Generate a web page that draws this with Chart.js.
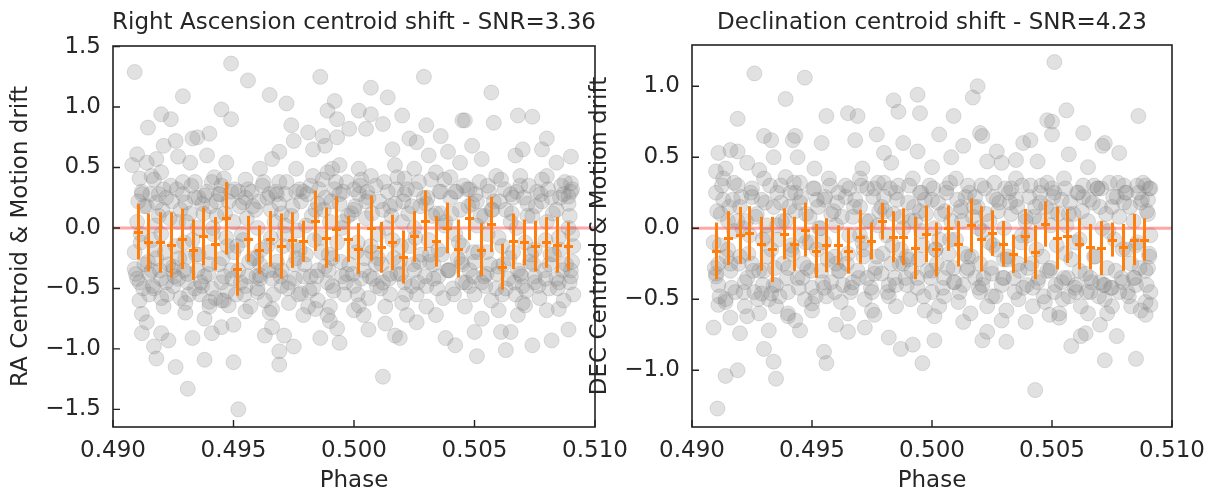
<!DOCTYPE html>
<html><head><meta charset="utf-8">
<script src="https://cdn.jsdelivr.net/npm/chart.js@4.4.1/dist/chart.umd.min.js"></script>
<style>
html,body{margin:0;padding:0;background:#fff;width:1211px;height:489px;overflow:hidden}
canvas{position:absolute;top:0}
#c1{left:0}
#c2{left:580px}
</style></head><body>
<canvas id="c1" width="640" height="489"></canvas>
<canvas id="c2" width="631" height="489"></canvas>
<script>
// ---------- tick labels ----------
const phaseTicks = [0.490, 0.495, 0.500, 0.505, 0.510];
const raYTicks = [-1.5, -1.0, -0.5, 0.0, 0.5, 1.0, 1.5];
const decYTicks = [-1.0, -0.5, 0.0, 0.5, 1.0];
const titles = ["Right Ascension centroid shift - SNR=3.36", "Declination centroid shift - SNR=4.23"];
const yLabels = ["RA Centroid & Motion drift", "DEC Centroid & Motion drift"];
const xLabel = "Phase";

// ---------- binned (orange) series ----------
const raBinPhase = [0.49102,0.49145,0.49195,0.49240,0.49286,0.49331,0.49375,0.49425,0.49468,0.49514,
  0.49559,0.49607,0.49653,0.49698,0.49744,0.49790,0.49838,0.49883,0.49927,0.49975,
  0.50018,0.50069,0.50111,0.50157,0.50203,0.50248,0.50294,0.50339,0.50385,0.50433,
  0.50476,0.50526,0.50570,0.50613,0.50661,0.50706,0.50752,0.50798,0.50841,0.50889];
const raBinValue = [-0.03,-0.12,-0.12,-0.14,-0.09,-0.18,-0.07,-0.13,0.08,-0.34,
  -0.09,-0.18,-0.09,-0.15,-0.10,-0.11,0.06,-0.08,-0.01,-0.09,
  -0.17,0.00,-0.16,-0.12,-0.24,-0.07,0.06,-0.11,0.00,-0.17,
  0.08,-0.18,0.03,-0.32,-0.11,-0.12,-0.15,-0.12,-0.14,-0.15];
const raBinErr = [0.23,0.24,0.25,0.27,0.25,0.25,0.24,0.22,0.30,0.22,
  0.19,0.20,0.23,0.27,0.23,0.17,0.25,0.25,0.27,0.19,
  0.21,0.27,0.21,0.23,0.22,0.21,0.25,0.21,0.21,0.24,
  0.18,0.22,0.23,0.19,0.23,0.19,0.21,0.21,0.23,0.20];

const decBinPhase = [0.49102,0.49152,0.49198,0.49239,0.49289,0.49333,0.49383,0.49424,0.49469,0.49515,
  0.49559,0.49609,0.49652,0.49701,0.49746,0.49790,0.49837,0.49881,0.49931,0.49974,
  0.50015,0.50068,0.50109,0.50162,0.50203,0.50249,0.50295,0.50337,0.50386,0.50431,
  0.50472,0.50521,0.50563,0.50612,0.50657,0.50703,0.50749,0.50794,0.50843,0.50884];
const decBinValue = [-0.16,-0.07,-0.05,-0.035,-0.11,-0.15,-0.04,-0.11,-0.01,-0.16,
  -0.12,-0.12,-0.16,-0.06,-0.09,0.05,-0.06,-0.06,-0.14,-0.04,
  -0.15,0.00,-0.11,0.02,-0.075,-0.035,-0.11,-0.18,-0.055,-0.17,
  0.03,-0.07,-0.055,-0.11,-0.13,-0.14,-0.08,-0.135,-0.08,-0.08];
const decBinErr = [0.20,0.19,0.20,0.19,0.19,0.23,0.18,0.19,0.19,0.19,
  0.19,0.14,0.16,0.19,0.13,0.13,0.18,0.20,0.22,0.20,
  0.19,0.16,0.16,0.19,0.23,0.16,0.16,0.135,0.19,0.19,
  0.16,0.22,0.19,0.18,0.16,0.19,0.12,0.165,0.18,0.15];

// ---------- raw (gray) points [phase, value] ----------
const raPoints = [
[0.4909,1.29],[0.4910,0.61],[0.4908,0.52],[0.4911,0.41],[0.49145,0.83],[0.4914,0.54],[0.4916,0.43],[0.4912,0.28],
[0.4909,-0.34],[0.4912,-0.71],[0.4912,-0.87],[0.4917,-0.98],[0.4918,-1.08],[0.4914,-0.78],[0.4920,0.94],[0.4924,0.90],
[0.4921,0.68],[0.4918,0.57],[0.4920,0.46],[0.4921,0.32],[0.4918,0.21],[0.4920,-0.58],[0.4917,-0.50],[0.4920,-0.87],
[0.4923,-0.93],[0.4926,-1.15],[0.4931,-1.33],[0.4929,1.09],[0.4926,0.72],[0.4927,0.59],[0.4933,0.74],[0.4935,0.75],
[0.4932,0.54],[0.4929,0.38],[0.4930,0.21],[0.4927,-0.42],[0.4930,-0.62],[0.4934,-0.50],[0.4933,-0.91],[0.4938,-1.09],
[0.4940,0.78],[0.4939,0.60],[0.4941,0.38],[0.4938,0.27],[0.4940,-0.61],[0.4941,-0.87],[0.4938,-0.75],[0.4945,0.98],
[0.4949,1.36],[0.4949,0.90],[0.4947,0.54],[0.4946,0.41],[0.4944,0.28],[0.4945,-0.60],[0.4948,-0.64],[0.4945,-0.82],
[0.4950,-0.80],[0.4950,-1.11],[0.4952,-1.50],[0.4956,1.22],[0.4954,0.21],[0.4956,0.32],[0.4955,-0.69],[0.4960,-0.53],
[0.4961,-0.39],[0.4963,-0.89],[0.4965,1.10],[0.4961,0.49],[0.4966,0.57],[0.4969,0.63],[0.4972,1.03],[0.4974,0.85],
[0.4969,0.38],[0.4976,0.49],[0.4975,0.72],[0.4968,0.28],[0.4966,-0.67],[0.4969,-1.02],[0.4969,-1.13],[0.4971,-0.89],
[0.4975,-0.98],[0.4966,-0.82],[0.4979,-0.72],[0.4978,-0.54],[0.4981,0.79],[0.4983,0.65],[0.4986,1.25],[0.4987,0.76],
[0.4989,0.97],[0.4988,0.68],[0.4983,0.43],[0.4992,1.05],[0.4993,0.90],[0.4991,0.49],[0.4994,0.52],[0.4989,0.46],
[0.4998,0.82],[0.4993,0.75],[0.4984,-0.67],[0.4986,-0.91],[0.4989,-0.72],[0.4993,-0.83],[0.4994,-0.95],[0.4990,-0.77],
[0.5002,0.97],[0.5007,0.94],[0.5007,1.16],[0.5005,0.82],[0.5012,0.86],[0.5014,1.08],[0.5002,0.49],[0.5007,0.43],
[0.5000,0.32],[0.5004,-0.72],[0.5006,-0.84],[0.5002,-0.64],[0.5012,-1.23],[0.5013,-0.79],[0.5017,-0.89],[0.5019,-0.91],
[0.5016,0.65],[0.5020,0.93],[0.5017,0.52],[0.5023,0.74],[0.5026,0.71],[0.5025,0.49],[0.5021,0.41],[0.5022,-0.72],
[0.5026,-0.78],[0.5029,1.25],[0.5030,0.85],[0.5031,0.60],[0.5034,0.46],[0.5036,0.76],[0.5039,0.63],[0.5034,-0.72],
[0.5038,-0.91],[0.5042,-0.97],[0.5044,0.54],[0.5045,0.89],[0.5046,0.89],[0.5049,0.68],[0.5053,0.57],[0.5048,0.32],
[0.5050,-0.86],[0.5051,-1.06],[0.5053,-0.75],[0.5057,1.12],[0.5058,0.87],[0.5059,0.43],[0.5061,-0.86],[0.5063,-1.01],
[0.5065,-0.86],[0.5068,0.93],[0.5074,0.92],[0.5070,0.65],[0.5067,0.60],[0.5069,0.43],[0.5068,-0.72],[0.5074,-0.97],
[0.5071,-0.64],[0.5080,0.74],[0.5078,0.65],[0.5084,0.54],[0.5080,0.43],[0.5082,-0.93],[0.5085,-0.67],[0.5089,-0.84],
[0.5090,0.59],[0.5090,0.37],[0.5089,0.26],
[0.4909,-0.20],[0.4910,0.05],[0.4911,-0.45],[0.4912,0.30],[0.4911,-0.60],[0.4913,-0.30],
[0.4914,0.18],[0.4915,-0.38],[0.4916,-0.10],[0.4917,0.40],[0.4915,-0.55],[0.4918,-0.25],
[0.4919,0.10],[0.4920,-0.42],[0.4921,-0.65],[0.4922,0.25],[0.4920,-0.05],[0.4923,-0.30],
[0.4924,0.35],[0.4925,-0.48],[0.4926,-0.15],[0.4927,0.05],[0.4925,-0.35],[0.4928,-0.58],
[0.4929,0.28],[0.4930,-0.25],[0.4931,-0.45],[0.4932,0.12],[0.4930,-0.70],[0.4933,-0.10],
[0.4934,0.38],[0.4935,-0.35],[0.4936,-0.55],[0.4937,0.20],[0.4935,0.00],[0.4938,-0.40],
[0.4939,0.30],[0.4940,-0.20],[0.4941,-0.50],[0.4942,0.42],[0.4940,-0.65],[0.4943,0.10],
[0.4944,-0.30],[0.4945,0.35],[0.4946,-0.60],[0.4947,-0.08],[0.4945,-0.45],[0.4948,0.22],
[0.4949,-0.35],[0.4950,0.05],[0.4951,-0.55],[0.4952,0.30],[0.4950,-0.20],[0.4953,-0.45],
[0.4954,-0.10],[0.4955,0.25],[0.4956,-0.40],[0.4957,-0.65],[0.4955,0.40],[0.4958,-0.25],
[0.4959,0.15],[0.4960,-0.50],[0.4961,-0.30],[0.4962,0.35],[0.4960,0.00],[0.4963,-0.60],
[0.4964,-0.15],[0.4965,0.28],[0.4966,-0.42],[0.4967,0.05],[0.4965,-0.70],[0.4968,-0.28],
[0.4969,0.20],[0.4970,-0.48],[0.4971,-0.05],[0.4972,0.38],[0.4970,-0.35],[0.4973,-0.62],
[0.4974,0.10],[0.4975,-0.30],[0.4976,0.30],[0.4977,-0.55],[0.4975,-0.15],[0.4978,0.22],
[0.4979,-0.40],[0.4980,0.02],[0.4981,-0.65],[0.4982,0.35],[0.4980,-0.22],[0.4983,-0.50],
[0.4984,0.15],[0.4985,-0.35],[0.4986,-0.08],[0.4987,0.40],[0.4985,-0.60],[0.4988,0.25],
[0.4989,-0.45],[0.4990,0.05],[0.4991,-0.25],[0.4992,0.32],[0.4990,-0.65],[0.4993,-0.12],
[0.4994,0.20],[0.4995,-0.40],[0.4996,-0.55],[0.4997,0.38],[0.4995,0.00],[0.4998,-0.30],
[0.4999,0.12],[0.5000,-0.48],[0.5001,-0.20],[0.5002,0.28],[0.5000,-0.68],[0.5003,0.40],
[0.5004,-0.35],[0.5005,0.08],[0.5006,-0.58],[0.5007,-0.15],[0.5005,0.22],[0.5008,-0.42],
[0.5009,0.35],[0.5010,-0.25],[0.5011,-0.50],[0.5012,0.15],[0.5010,-0.05],[0.5013,-0.65],
[0.5014,0.30],[0.5015,-0.38],[0.5016,-0.10],[0.5017,0.20],[0.5015,-0.55],[0.5018,0.42],
[0.5019,-0.28],[0.5020,0.05],[0.5021,-0.45],[0.5022,0.32],[0.5020,-0.62],[0.5023,-0.15],
[0.5024,0.18],[0.5025,-0.35],[0.5026,-0.55],[0.5027,0.38],[0.5025,0.00],[0.5028,-0.22],
[0.5029,0.25],[0.5030,-0.48],[0.5031,-0.10],[0.5032,0.40],[0.5030,-0.65],[0.5033,-0.30],
[0.5034,0.12],[0.5035,-0.40],[0.5036,0.30],[0.5037,-0.58],[0.5035,-0.18],[0.5038,0.05],
[0.5039,-0.35],[0.5040,0.25],[0.5041,-0.50],[0.5042,-0.05],[0.5040,0.42],[0.5043,-0.25],
[0.5044,0.15],[0.5045,-0.45],[0.5046,-0.65],[0.5047,0.32],[0.5045,-0.15],[0.5048,-0.35],
[0.5049,0.20],[0.5050,-0.55],[0.5051,0.02],[0.5052,0.38],[0.5050,-0.28],[0.5053,-0.45],
[0.5054,0.10],[0.5055,-0.20],[0.5056,0.30],[0.5057,-0.60],[0.5055,-0.38],[0.5058,0.22],
[0.5059,-0.50],[0.5060,-0.08],[0.5061,0.40],[0.5062,-0.30],[0.5060,-0.68],[0.5063,0.15],
[0.5064,-0.42],[0.5065,0.28],[0.5066,-0.20],[0.5067,-0.55],[0.5065,0.05],[0.5068,-0.35],
[0.5069,0.35],[0.5070,-0.48],[0.5071,-0.12],[0.5072,0.20],[0.5070,-0.62],[0.5073,-0.28],
[0.5074,0.10],[0.5075,-0.40],[0.5076,0.30],[0.5077,-0.58],[0.5075,-0.18],[0.5078,0.40],
[0.5079,-0.35],[0.5080,0.05],[0.5081,-0.50],[0.5082,0.25],[0.5080,-0.68],[0.5083,-0.22],
[0.5084,0.15],[0.5085,-0.45],[0.5086,0.35],[0.5087,-0.60],[0.5085,-0.08],[0.5088,-0.30],
[0.5089,0.20],[0.5090,-0.40],[0.5091,-0.15],[0.5090,0.30],[0.5091,-0.55],[0.5089,0.00]
];
const raBandPoints = [
[0.49095,-0.38],[0.49105,0.22],[0.49115,-0.12],[0.49125,-0.50],[0.49145,-0.28],[0.49155,0.28],[0.49165,-0.48],[0.49175,0.02],
[0.49195,-0.35],[0.49205,0.15],[0.49215,-0.20],[0.49225,-0.55],[0.49245,0.22],[0.49255,-0.40],[0.49265,0.32],[0.49275,-0.25],
[0.49295,-0.35],[0.49305,0.05],[0.49315,-0.55],[0.49325,0.35],[0.49345,-0.22],[0.49355,0.25],[0.49365,-0.45],[0.49375,0.12],
[0.49395,-0.38],[0.49405,0.18],[0.49415,-0.05],[0.49425,-0.58],[0.49445,0.28],[0.49455,-0.25],[0.49465,0.12],[0.49475,-0.52],
[0.49495,-0.42],[0.49505,0.32],[0.49515,-0.15],[0.49525,0.18],[0.49545,-0.55],[0.49555,0.08],[0.49565,-0.28],[0.49575,0.30],
[0.49595,-0.40],[0.49605,0.22],[0.49615,-0.18],[0.49625,0.38],[0.49645,-0.35],[0.49655,0.15],[0.49665,-0.55],[0.49675,0.30],
[0.49695,-0.40],[0.49705,-0.15],[0.49715,0.28],[0.49725,-0.50],[0.49745,0.18],[0.49755,-0.42],[0.49765,-0.02],[0.49775,0.32],
[0.49795,-0.30],[0.49805,0.28],[0.49815,-0.52],[0.49825,0.10],[0.49845,-0.40],[0.49855,0.32],[0.49865,-0.20],[0.49875,0.15],
[0.49895,-0.35],[0.49905,0.22],[0.49915,-0.52],[0.49925,0.38],[0.49945,-0.28],[0.49955,0.30],[0.49965,-0.45],[0.49975,0.10],
[0.49995,-0.38],[0.50005,0.18],[0.50015,-0.55],[0.50025,0.35],[0.50045,-0.25],[0.50055,0.30],[0.50065,-0.40],[0.50075,0.12],
[0.50095,-0.48],[0.50105,0.22],[0.50115,-0.30],[0.50125,0.38],[0.50145,-0.42],[0.50155,0.10],[0.50165,-0.25],[0.50175,0.32],
[0.50195,-0.38],[0.50205,0.22],[0.50215,-0.55],[0.50225,0.12],[0.50245,-0.30],[0.50255,0.32],[0.50265,-0.45],[0.50275,0.18],
[0.50295,-0.40],[0.50305,0.25],[0.50315,-0.28],[0.50325,0.10],[0.50345,-0.50],[0.50355,0.30],[0.50365,-0.22],[0.50375,0.40],
[0.50395,-0.35],[0.50405,0.12],[0.50415,-0.55],[0.50425,0.30],[0.50445,-0.28],[0.50455,0.35],[0.50465,-0.45],[0.50475,0.18],
[0.50495,-0.40],[0.50505,0.28],[0.50515,-0.20],[0.50525,0.10],[0.50545,-0.48],[0.50555,0.35],[0.50565,-0.30],[0.50575,0.15],
[0.50595,-0.38],[0.50605,0.22],[0.50615,-0.55],[0.50625,0.32],[0.50645,-0.25],[0.50655,0.12],[0.50665,-0.45],[0.50675,0.30],
[0.50695,-0.40],[0.50705,0.25],[0.50715,-0.52],[0.50725,0.35],[0.50745,-0.30],[0.50755,0.18],[0.50765,-0.48],[0.50775,0.28],
[0.50795,-0.42],[0.50805,0.32],[0.50815,-0.22],[0.50825,0.12],[0.50845,-0.50],[0.50855,0.25],[0.50865,-0.35],[0.50875,0.38],
[0.50895,-0.45],[0.50905,0.32],[0.50905,-0.28],[0.50895,0.10]
];
const raCorePoints = [
[0.4910,-0.42],[0.4913,0.18],[0.4916,-0.35],[0.4919,0.28],[0.4922,-0.45],[0.4925,-0.32],[0.4928,0.15],[0.4931,-0.38],
[0.4934,0.25],[0.4937,-0.48],[0.4940,-0.30],[0.4943,0.22],[0.4946,-0.40],[0.4949,0.30],[0.4952,-0.35],[0.4955,-0.48],
[0.4958,0.18],[0.4961,-0.42],[0.4964,0.25],[0.4967,-0.35],[0.4970,0.12],[0.4973,-0.45],[0.4976,-0.25],[0.4979,0.30],
[0.4982,-0.40],[0.4985,0.20],[0.4988,-0.32],[0.4991,-0.48],[0.4994,0.28],[0.4997,-0.38],[0.5000,0.15],[0.5003,-0.42],
[0.5006,0.25],[0.5009,-0.30],[0.5012,-0.45],[0.5015,0.18],[0.5018,-0.38],[0.5021,0.28],[0.5024,-0.48],[0.5027,-0.28],
[0.5030,0.20],[0.5033,-0.42],[0.5036,0.12],[0.5039,-0.35],[0.5042,0.30],[0.5045,-0.30],[0.5048,-0.48],[0.5051,0.22],
[0.5054,-0.40],[0.5057,0.15],[0.5060,-0.32],[0.5063,-0.50],[0.5066,0.25],[0.5069,-0.38],[0.5072,0.10],[0.5075,-0.45],
[0.5078,0.22],[0.5081,-0.30],[0.5084,-0.42],[0.5087,0.28],[0.5090,-0.35],
[0.49115,-0.05],[0.49175,-0.18],[0.49235,0.08],[0.49295,-0.12],[0.49355,-0.22],[0.49415,0.00],[0.49475,-0.15],[0.49535,-0.05],
[0.49595,-0.25],[0.49655,-0.08],[0.49715,0.02],[0.49775,-0.18],[0.49835,-0.10],[0.49895,-0.22],[0.49955,0.05],[0.50015,-0.12],
[0.50075,-0.20],[0.50135,0.00],[0.50195,-0.15],[0.50255,-0.08],[0.50315,-0.22],[0.50375,0.02],[0.50435,-0.12],[0.50495,-0.20],
[0.50555,-0.05],[0.50615,-0.15],[0.50675,0.00],[0.50735,-0.22],[0.50795,-0.10],[0.50855,-0.18],[0.50905,-0.05]
];

const decPoints = [
[0.49106,-1.27],[0.4909,-0.70],[0.4914,-1.04],[0.4919,-1.00],[0.4920,-0.74],[0.4916,-0.63],[0.4914,-0.52],[0.4911,-0.54],
[0.4910,-0.34],[0.4919,0.77],[0.4911,0.53],[0.4916,0.55],[0.4910,0.40],[0.4914,0.42],[0.4919,0.54],[0.4923,0.46],
[0.4926,1.09],[0.4928,0.41],[0.4930,0.65],[0.4933,0.62],[0.4934,0.50],[0.4923,-0.62],[0.4930,-0.85],[0.4932,-0.72],
[0.4934,-0.94],[0.4935,-1.06],[0.4929,-0.46],[0.4933,-0.46],[0.4939,0.91],[0.4942,0.62],[0.4943,0.65],[0.4939,0.36],
[0.4944,0.50],[0.4947,1.06],[0.4940,-0.60],[0.4943,-0.65],[0.4945,-0.72],[0.4950,-0.53],[0.4956,0.79],[0.4954,0.60],
[0.4951,0.42],[0.4955,-0.87],[0.4956,-0.95],[0.4960,-0.68],[0.4965,-0.73],[0.4965,0.81],[0.4969,0.79],[0.4968,0.62],
[0.4971,0.42],[0.4977,0.66],[0.4980,0.53],[0.4972,-0.70],[0.4976,-0.61],[0.4982,-0.77],[0.4987,-0.85],[0.4992,-0.82],
[0.4996,-0.95],[0.4984,0.90],[0.4986,0.82],[0.4994,0.94],[0.4995,0.81],[0.4988,0.60],[0.4994,0.54],[0.4983,0.46],
[0.5000,0.43],[0.5003,0.66],[0.5009,0.79],[0.5013,0.58],[0.5008,0.50],[0.5017,0.92],[0.5019,1.00],[0.5020,0.67],
[0.5021,0.65],[0.5001,-0.62],[0.5001,-0.79],[0.5013,-0.66],[0.5021,-0.79],[0.5023,-0.73],[0.5031,-0.80],[0.5029,-0.65],
[0.5023,0.47],[0.5027,0.54],[0.5029,0.46],[0.5035,0.48],[0.5038,0.60],[0.5041,0.62],[0.5044,0.47],[0.5048,0.76],
[0.5050,0.75],[0.5050,0.66],[0.5051,1.17],[0.5056,0.83],[0.5063,0.67],[0.5057,0.52],[0.5065,0.43],[0.5071,0.58],
[0.5072,0.60],[0.5078,0.53],[0.5086,0.79],[0.5039,-0.66],[0.5043,-1.14],[0.5049,-0.61],[0.5053,-0.63],[0.5058,-0.83],
[0.5062,-0.76],[0.5064,-0.74],[0.5070,-0.68],[0.5072,-0.93],[0.5073,-0.60],[0.5077,-0.76],[0.5085,-0.92],[0.5083,-0.55],
[0.5089,-0.61],[0.5091,-0.54],[0.5089,0.30],[0.5091,0.28],
[0.4909,-0.10],[0.4910,0.25],[0.4911,-0.40],[0.4912,0.10],[0.4911,-0.25],[0.4913,0.35],
[0.4914,-0.50],[0.4915,0.05],[0.4916,-0.30],[0.4917,0.20],[0.4915,-0.15],[0.4918,-0.45],
[0.4919,0.30],[0.4920,-0.20],[0.4921,0.00],[0.4922,-0.55],[0.4920,0.15],[0.4923,-0.35],
[0.4924,-0.05],[0.4925,0.28],[0.4926,-0.45],[0.4927,0.10],[0.4925,-0.25],[0.4928,-0.60],
[0.4929,0.20],[0.4930,-0.30],[0.4931,0.02],[0.4932,-0.50],[0.4930,0.35],[0.4933,-0.15],
[0.4934,0.15],[0.4935,-0.40],[0.4936,-0.08],[0.4937,0.30],[0.4935,-0.55],[0.4938,-0.25],
[0.4939,0.05],[0.4940,-0.45],[0.4941,0.25],[0.4942,-0.18],[0.4940,-0.62],[0.4943,0.12],
[0.4944,-0.35],[0.4945,0.32],[0.4946,-0.05],[0.4947,-0.50],[0.4945,0.18],[0.4948,-0.28],
[0.4949,0.08],[0.4950,-0.42],[0.4951,0.28],[0.4952,-0.15],[0.4950,-0.58],[0.4953,0.00],
[0.4954,-0.30],[0.4955,0.20],[0.4956,-0.48],[0.4957,0.35],[0.4955,-0.10],[0.4958,-0.38],
[0.4959,0.12],[0.4960,-0.25],[0.4961,0.25],[0.4962,-0.52],[0.4960,0.02],[0.4963,-0.40],
[0.4964,0.30],[0.4965,-0.18],[0.4966,-0.45],[0.4967,0.08],[0.4965,-0.60],[0.4968,0.20],
[0.4969,-0.30],[0.4970,0.35],[0.4971,-0.10],[0.4972,-0.50],[0.4970,0.15],[0.4973,-0.35],
[0.4974,0.05],[0.4975,-0.45],[0.4976,0.28],[0.4977,-0.20],[0.4975,-0.58],[0.4978,0.12],
[0.4979,-0.32],[0.4980,0.22],[0.4981,-0.05],[0.4982,-0.48],[0.4980,0.32],[0.4983,-0.25],
[0.4984,0.10],[0.4985,-0.40],[0.4986,0.30],[0.4987,-0.15],[0.4985,-0.55],[0.4988,0.00],
[0.4989,-0.35],[0.4990,0.18],[0.4991,-0.50],[0.4992,0.35],[0.4990,-0.22],[0.4993,0.05],
[0.4994,-0.42],[0.4995,0.25],[0.4996,-0.12],[0.4997,-0.58],[0.4995,0.12],[0.4998,-0.30],
[0.4999,0.30],[0.5000,-0.45],[0.5001,0.00],[0.5002,-0.25],[0.5000,0.20],[0.5003,-0.55],
[0.5004,0.10],[0.5005,-0.35],[0.5006,0.28],[0.5007,-0.18],[0.5005,-0.48],[0.5008,0.05],
[0.5009,-0.28],[0.5010,0.35],[0.5011,-0.52],[0.5012,0.15],[0.5010,-0.08],[0.5013,-0.40],
[0.5014,0.22],[0.5015,-0.20],[0.5016,-0.60],[0.5017,0.08],[0.5015,0.30],[0.5018,-0.35],
[0.5019,0.15],[0.5020,-0.45],[0.5021,-0.02],[0.5022,0.28],[0.5020,-0.25],[0.5023,-0.55],
[0.5024,0.05],[0.5025,-0.32],[0.5026,0.32],[0.5027,-0.15],[0.5025,-0.48],[0.5028,0.18],
[0.5029,-0.40],[0.5030,0.00],[0.5031,-0.58],[0.5032,0.25],[0.5030,-0.22],[0.5033,0.10],
[0.5034,-0.35],[0.5035,0.35],[0.5036,-0.50],[0.5037,-0.10],[0.5035,0.20],[0.5038,-0.42],
[0.5039,0.08],[0.5040,-0.28],[0.5041,0.30],[0.5042,-0.55],[0.5040,-0.05],[0.5043,0.15],
[0.5044,-0.38],[0.5045,0.25],[0.5046,-0.20],[0.5047,-0.52],[0.5045,0.05],[0.5048,0.32],
[0.5049,-0.30],[0.5050,0.12],[0.5051,-0.45],[0.5052,-0.12],[0.5050,0.28],[0.5053,-0.60],
[0.5054,0.20],[0.5055,-0.35],[0.5056,0.02],[0.5057,-0.48],[0.5055,0.35],[0.5058,-0.22],
[0.5059,0.10],[0.5060,-0.40],[0.5061,0.25],[0.5062,-0.55],[0.5060,-0.10],[0.5063,0.30],
[0.5064,-0.32],[0.5065,0.05],[0.5066,-0.45],[0.5067,0.18],[0.5065,-0.60],[0.5068,-0.20],
[0.5069,0.28],[0.5070,-0.38],[0.5071,0.00],[0.5072,-0.50],[0.5070,0.15],[0.5073,-0.28],
[0.5074,0.32],[0.5075,-0.42],[0.5076,-0.08],[0.5077,0.22],[0.5075,-0.55],[0.5078,0.08],
[0.5079,-0.35],[0.5080,0.30],[0.5081,-0.15],[0.5082,-0.48],[0.5080,0.18],[0.5083,-0.25],
[0.5084,0.05],[0.5085,-0.40],[0.5086,0.25],[0.5087,-0.58],[0.5085,-0.12],[0.5088,0.32],
[0.5089,-0.30],[0.5090,0.10],[0.5091,-0.45],[0.5090,0.20],[0.5091,-0.05],[0.5089,-0.52]
];
const decBandPoints = [
[0.49095,-0.28],[0.49105,0.12],[0.49115,-0.48],[0.49125,0.30],[0.49145,-0.20],[0.49155,0.15],[0.49165,-0.42],[0.49175,0.32],
[0.49195,-0.25],[0.49205,0.22],[0.49215,-0.45],[0.49225,0.05],[0.49245,0.25],[0.49255,-0.30],[0.49265,0.08],[0.49275,-0.50],
[0.49295,-0.40],[0.49305,0.18],[0.49315,-0.20],[0.49325,0.30],[0.49345,-0.28],[0.49355,0.25],[0.49365,-0.48],[0.49375,0.05],
[0.49395,-0.35],[0.49405,0.15],[0.49415,-0.12],[0.49425,0.32],[0.49445,-0.42],[0.49455,0.22],[0.49465,-0.25],[0.49475,0.10],
[0.49495,-0.30],[0.49505,0.28],[0.49515,-0.48],[0.49525,0.15],[0.49545,-0.38],[0.49555,0.22],[0.49565,-0.22],[0.49575,0.30],
[0.49595,-0.45],[0.49605,0.18],[0.49615,-0.30],[0.49625,0.08],[0.49645,-0.25],[0.49655,0.28],[0.49665,-0.42],[0.49675,0.15],
[0.49695,-0.35],[0.49705,0.30],[0.49715,-0.20],[0.49725,0.05],[0.49745,-0.42],[0.49755,0.22],[0.49765,-0.28],[0.49775,0.32],
[0.49795,-0.18],[0.49805,0.12],[0.49815,-0.45],[0.49825,0.28],[0.49845,-0.35],[0.49855,0.20],[0.49865,-0.25],[0.49875,0.08],
[0.49895,-0.40],[0.49905,0.30],[0.49915,-0.30],[0.49925,0.15],[0.49945,-0.22],[0.49955,0.25],[0.49965,-0.48],[0.49975,0.10],
[0.49995,-0.35],[0.50005,0.28],[0.50015,-0.15],[0.50025,0.18],[0.50045,-0.42],[0.50055,0.12],[0.50065,-0.28],[0.50075,0.32],
[0.50095,-0.38],[0.50105,0.20],[0.50115,-0.45],[0.50125,0.05],[0.50145,-0.30],[0.50155,0.25],[0.50165,-0.20],[0.50175,0.15],
[0.50195,-0.42],[0.50205,0.30],[0.50215,-0.35],[0.50225,0.10],[0.50245,-0.28],[0.50255,0.22],[0.50265,-0.48],[0.50275,0.12],
[0.50295,-0.35],[0.50305,0.28],[0.50315,-0.22],[0.50325,0.18],[0.50345,-0.45],[0.50355,0.15],[0.50365,-0.30],[0.50375,0.30],
[0.50395,-0.40],[0.50405,0.22],[0.50415,-0.25],[0.50425,0.08],[0.50445,-0.35],[0.50455,0.30],[0.50465,-0.48],[0.50475,0.15],
[0.50495,-0.28],[0.50505,0.22],[0.50515,-0.40],[0.50525,0.10],[0.50545,-0.50],[0.50555,0.28],[0.50565,-0.35],[0.50575,0.18],
[0.50595,-0.42],[0.50605,0.25],[0.50615,-0.30],[0.50625,0.12],[0.50645,-0.45],[0.50655,0.20],[0.50665,-0.38],[0.50675,0.30],
[0.50695,-0.48],[0.50705,0.28],[0.50715,-0.40],[0.50725,0.10],[0.50745,-0.42],[0.50755,0.22],[0.50765,-0.30],[0.50775,0.32],
[0.50795,-0.38],[0.50805,0.25],[0.50815,-0.45],[0.50825,0.15],[0.50845,-0.35],[0.50855,0.30],[0.50865,-0.28],[0.50875,0.20],
[0.50895,-0.40],[0.50905,0.28],[0.50905,-0.20],[0.50895,0.12]
];
const decCorePoints = [
[0.4910,-0.32],[0.4913,0.20],[0.4916,-0.25],[0.4919,0.05],[0.4922,-0.38],[0.4925,0.22],[0.4928,-0.30],[0.4931,-0.05],
[0.4934,-0.40],[0.4937,0.18],[0.4940,-0.28],[0.4943,0.25],[0.4946,-0.35],[0.4949,-0.10],[0.4952,0.20],[0.4955,-0.42],
[0.4958,0.10],[0.4961,-0.30],[0.4964,0.22],[0.4967,-0.38],[0.4970,-0.05],[0.4973,0.28],[0.4976,-0.32],[0.4979,0.15],
[0.4982,-0.40],[0.4985,0.25],[0.4988,-0.25],[0.4991,0.05],[0.4994,-0.35],[0.4997,0.20],[0.5000,-0.30],[0.5003,-0.08],
[0.5006,0.25],[0.5009,-0.38],[0.5012,0.12],[0.5015,-0.28],[0.5018,0.22],[0.5021,-0.40],[0.5024,-0.10],[0.5027,0.20],
[0.5030,-0.35],[0.5033,0.28],[0.5036,-0.25],[0.5039,0.05],[0.5042,-0.42],[0.5045,0.18],[0.5048,-0.30],[0.5051,0.25],
[0.5054,-0.38],[0.5057,0.10],[0.5060,-0.45],[0.5063,0.22],[0.5066,-0.35],[0.5069,0.28],[0.5072,-0.40],[0.5075,0.15],
[0.5078,-0.45],[0.5081,0.25],[0.5084,-0.35],[0.5087,0.18],[0.5090,-0.28],
[0.49115,-0.12],[0.49175,-0.02],[0.49235,-0.18],[0.49295,-0.08],[0.49355,0.02],[0.49415,-0.15],[0.49475,-0.10],[0.49535,0.00],
[0.49595,-0.20],[0.49655,-0.05],[0.49715,-0.15],[0.49775,0.02],[0.49835,-0.12],[0.49895,-0.20],[0.49955,-0.02],[0.50015,-0.15],
[0.50075,-0.08],[0.50135,-0.18],[0.50195,0.00],[0.50255,-0.12],[0.50315,-0.20],[0.50375,-0.05],[0.50435,-0.15],[0.50495,0.02],
[0.50555,-0.18],[0.50615,-0.08],[0.50675,-0.20],[0.50735,-0.02],[0.50795,-0.15],[0.50855,-0.10],[0.50905,-0.18]
];

// ---------- styling ----------
const FONT = "'DejaVu Sans', sans-serif";
const TXT = '#262626';
const ORANGE = '#ff7f0e';
const FS = 23;

const errorBarPlugin = {
  id: 'errorBars',
  afterDatasetsDraw(chart) {
    const ctx = chart.ctx, xs = chart.scales.x, ys = chart.scales.y, a = chart.chartArea;
    ctx.save();
    ctx.beginPath(); ctx.rect(a.left, a.top, a.right - a.left, a.bottom - a.top); ctx.clip();
    chart.data.datasets.forEach(ds => {
      if (!ds.errorBars) return;
      ctx.strokeStyle = ds.borderColor; ctx.lineWidth = 3; ctx.lineCap = 'butt';
      ds.data.forEach((p, i) => {
        const e = ds.errorBars[i];
        const px = Math.round(xs.getPixelForValue(p.x)) + 0.5;
        ctx.beginPath();
        ctx.moveTo(px, ys.getPixelForValue(p.y + e));
        ctx.lineTo(px, ys.getPixelForValue(p.y - e));
        ctx.stroke();
        ctx.beginPath();
        const py = Math.round(ys.getPixelForValue(p.y)) + 0.5;
        ctx.moveTo(px - 4.5, py); ctx.lineTo(px + 4.5, py);
        ctx.stroke();
      });
    });
    ctx.restore();
  }
};

const framePlugin = {
  id: 'frame',
  afterDraw(chart, args, opts) {
    const ctx = chart.ctx, a = chart.chartArea, xs = chart.scales.x, ys = chart.scales.y;
    ctx.save();
    ctx.strokeStyle = '#222'; ctx.lineWidth = 1.6;
    ctx.strokeRect(a.left, a.top, a.right - a.left, a.bottom - a.top);
    ctx.lineWidth = 1.4;
    ctx.beginPath();
    xs.ticks.forEach(t => { const p = xs.getPixelForValue(t.value); ctx.moveTo(p, a.bottom); ctx.lineTo(p, a.bottom - 7); });
    ys.ticks.forEach(t => { const p = ys.getPixelForValue(t.value); ctx.moveTo(a.left, p); ctx.lineTo(a.left + 7, p); });
    ctx.stroke();
    ctx.fillStyle = TXT; ctx.font = FS + "px " + FONT; ctx.textAlign = 'center'; ctx.textBaseline = 'middle';
    ctx.fillText(opts.title, (a.left + a.right) / 2, 23);
    ctx.restore();
  }
};

function fmtY(v) { return (v < 0 ? '\u2212' : '') + Math.abs(v).toFixed(1); }

function makeChart(id, points, binX, binY, binErr, yTicks, yMin, yMax, title, yLabel, geom) {
  const tickFont = { family: FONT, size: FS };
  return new Chart(document.getElementById(id), {
    data: {
      datasets: [
        { type: 'scatter', order: 1, data: binX.map((x, i) => ({ x, y: binY[i] })), errorBars: binErr,
          borderColor: ORANGE, backgroundColor: ORANGE, pointRadius: 0 },
        { type: 'line', order: 2, data: [{ x: phaseTicks[0], y: 0 }, { x: phaseTicks[phaseTicks.length - 1], y: 0 }],
          borderColor: 'rgba(255,60,60,0.45)', borderWidth: 3, pointRadius: 0 },
        { type: 'scatter', order: 3, data: points.map(p => ({ x: p[0], y: p[1] })),
          backgroundColor: 'rgba(128,128,128,0.24)', borderColor: 'rgba(128,128,128,0.24)', borderWidth: 1, pointRadius: 7.5 }
      ]
    },
    options: {
      responsive: false, animation: false, devicePixelRatio: 1,
      layout: { padding: { top: geom.top, right: geom.right, bottom: 0, left: 0 } },
      plugins: { legend: { display: false }, tooltip: { enabled: false }, frame: { title } },
      scales: {
        x: {
          type: 'linear', min: phaseTicks[0], max: phaseTicks[phaseTicks.length - 1],
          afterBuildTicks: s => { s.ticks = phaseTicks.map(v => ({ value: v })); },
          afterFit: s => { s.height = geom.xh; s.paddingLeft = 0; s.paddingRight = 0; },
          grid: { display: false, drawTicks: false }, border: { display: false },
          ticks: { font: tickFont, color: TXT, padding: 10, maxRotation: 0, autoSkip: false, callback: v => Number(v).toFixed(3) },
          title: { display: true, text: xLabel, font: { family: FONT, size: FS, lineHeight: 0.7 }, color: TXT, padding: { top: 0, bottom: 0 } }
        },
        y: {
          type: 'linear', min: yMin, max: yMax,
          afterBuildTicks: s => { s.ticks = yTicks.map(v => ({ value: v })); },
          afterFit: s => { s.width = geom.yw; s.paddingTop = 0; s.paddingBottom = 0; },
          grid: { display: false, drawTicks: false }, border: { display: false },
          ticks: { font: tickFont, color: TXT, padding: 12, autoSkip: false, callback: v => fmtY(v) },
          title: { display: true, text: yLabel, font: { family: FONT, size: FS, lineHeight: 1.2 }, color: TXT, padding: { top: geom.yt, bottom: 0 } }
        }
      }
    },
    plugins: [errorBarPlugin, framePlugin]
  });
}

makeChart('c1', raPoints.concat(raBandPoints, raCorePoints), raBinPhase, raBinValue, raBinErr, raYTicks, -1.646, 1.505,
  titles[0], yLabels[0], { top: 46, right: 45, xh: 62, yw: 113, yt: 7 });
makeChart('c2', decPoints.concat(decBandPoints, decCorePoints), decBinPhase, decBinValue, decBinErr, decYTicks, -1.40, 1.29,
  titles[1], yLabels[1], { top: 45, right: 39, xh: 62, yw: 112, yt: 6 });
</script>
</body></html>
